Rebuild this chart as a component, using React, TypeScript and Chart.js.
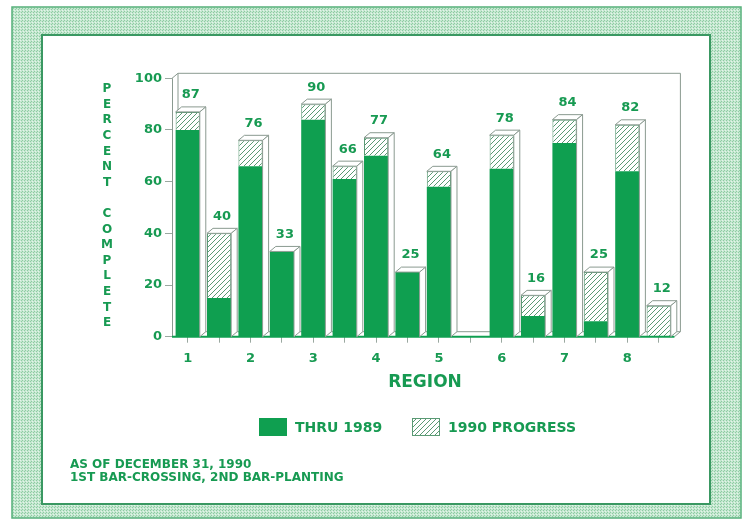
import { useEffect, useRef } from 'react';
import { Chart, registerables } from 'chart.js';
Chart.register(...registerables);

// ---------------- data ----------------
const regions = ['1', '2', '3', '4', '5', '6', '7', '8'];
const barKinds = ['CROSSING', 'PLANTING'];
const thru1989 = [80, 15, 66, 33, 84, 61, 70, 25, 58, 0, 65, 8, 75, 6, 64, 0];
const progress1990 = [7, 25, 10, 0, 6, 5, 7, 0, 6, 0, 13, 8, 9, 19, 18, 12];
const yTickValues = [0, 20, 40, 60, 80, 100];
const seriesNames = ['THRU 1989', '1990 PROGRESS'];
const yTitle = 'PERCENT COMPLETE';
const xTitle = 'REGION';
const notes = ['AS OF DECEMBER 31, 1990', '1ST BAR-CROSSING, 2ND BAR-PLANTING'];

// ---------------- style ----------------
const W = 749;
const H = 524;
const GREEN = '#0f9f50';
const TEXT = '#179a52';
const EDGE = '#8a9a90';
const FONT = '"DejaVu Sans", sans-serif';
const DX = 6;
const DY = -5;

function makeHatch(size: number) {
  const c = document.createElement('canvas');
  c.width = size;
  c.height = size;
  const g = c.getContext('2d')!;
  g.fillStyle = '#ffffff';
  g.fillRect(0, 0, size, size);
  g.strokeStyle = '#5a9a74';
  g.lineWidth = 1;
  g.beginPath();
  g.moveTo(-1, size + 1);
  g.lineTo(size + 1, -1);
  g.moveTo(-1, 1);
  g.lineTo(1, -1);
  g.moveTo(size - 1, size + 1);
  g.lineTo(size + 1, size - 1);
  g.stroke();
  return g.createPattern(c, 'repeat')!;
}

function makeTexture() {
  const c = document.createElement('canvas');
  c.width = 3;
  c.height = 3;
  const g = c.getContext('2d')!;
  g.fillStyle = '#c6e8d1';
  g.fillRect(0, 0, 3, 3);
  g.fillStyle = '#8ecba3';
  g.fillRect(0, 0, 1, 1);
  g.fillRect(1, 2, 1, 1);
  g.fillStyle = '#e4f4ea';
  g.fillRect(2, 1, 1, 1);
  return g.createPattern(c, 'repeat')!;
}

export default function App() {
  const ref = useRef<HTMLCanvasElement | null>(null);

  useEffect(() => {
    const canvas = ref.current!;
    const hatch = makeHatch(5);
    const texture = makeTexture();
    const slots = regions.flatMap((r) => barKinds.map((k) => `${r} ${k}`));
    const totals = thru1989.map((v, i) => v + progress1990[i]);

    const decor = {
      id: 'decor',
      beforeDraw(chart: any) {
        const ctx = chart.ctx;
        ctx.save();
        ctx.fillStyle = '#ffffff';
        ctx.fillRect(0, 0, W, H);
        // outer textured frame
        ctx.fillStyle = texture;
        ctx.fillRect(12, 7, 729, 511);
        ctx.strokeStyle = '#55b07a';
        ctx.lineWidth = 1.5;
        ctx.strokeRect(12, 7, 729, 511);
        // inner white panel
        ctx.fillStyle = '#ffffff';
        ctx.fillRect(42, 35, 668, 469);
        ctx.strokeStyle = '#3a9862';
        ctx.lineWidth = 2;
        ctx.strokeRect(42, 35, 668, 469);
        ctx.restore();
      },
      beforeDatasetsDraw(chart: any) {
        const ctx = chart.ctx;
        const a = chart.chartArea;
        ctx.save();
        ctx.strokeStyle = EDGE;
        ctx.lineWidth = 1;
        ctx.beginPath();
        // back wall
        ctx.moveTo(a.left + DX, a.bottom + DY);
        ctx.lineTo(a.left + DX, a.top + DY);
        ctx.lineTo(a.right + DX, a.top + DY);
        ctx.lineTo(a.right + DX, a.bottom + DY);
        // floor back edge
        ctx.moveTo(a.left + DX, a.bottom + DY);
        ctx.lineTo(a.right + DX, a.bottom + DY);
        // connectors
        ctx.moveTo(a.left, a.top);
        ctx.lineTo(a.left + DX, a.top + DY);
        ctx.moveTo(a.right, a.bottom);
        ctx.lineTo(a.right + DX, a.bottom + DY);
        // front y axis
        ctx.moveTo(a.left + 0.5, a.top);
        ctx.lineTo(a.left + 0.5, a.bottom);
        ctx.stroke();
        ctx.restore();
      },
      afterDatasetsDraw(chart: any) {
        const ctx = chart.ctx;
        const a = chart.chartArea;
        const y = chart.scales.y;
        const meta = chart.getDatasetMeta(0);
        ctx.save();
        // front floor line
        ctx.strokeStyle = GREEN;
        ctx.lineWidth = 2;
        ctx.beginPath();
        ctx.moveTo(a.left, a.bottom);
        ctx.lineTo(a.right, a.bottom);
        ctx.stroke();
        ctx.lineWidth = 1;
        totals.forEach((t, i) => {
          const el = meta.data[i];
          const w = el.width;
          const l = el.x - w / 2;
          const r = el.x + w / 2;
          const top = y.getPixelForValue(t);
          const bot = y.getPixelForValue(0);
          if (t > 0) {
            ctx.fillStyle = '#ffffff';
            ctx.strokeStyle = EDGE;
            ctx.beginPath();
            ctx.moveTo(l, top);
            ctx.lineTo(l + DX, top + DY);
            ctx.lineTo(r + DX, top + DY);
            ctx.lineTo(r, top);
            ctx.closePath();
            ctx.fill();
            ctx.stroke();
            ctx.beginPath();
            ctx.moveTo(r, top);
            ctx.lineTo(r + DX, top + DY);
            ctx.lineTo(r + DX, bot + DY);
            ctx.lineTo(r, bot);
            ctx.closePath();
            ctx.fill();
            ctx.stroke();
            ctx.fillStyle = TEXT;
            ctx.font = `bold 13px ${FONT}`;
            ctx.textAlign = 'center';
            ctx.textBaseline = 'middle';
            ctx.fillText(String(t), el.x + 3, top - 17);
          }
        });
        ctx.restore();
      },
      afterDraw(chart: any) {
        const ctx = chart.ctx;
        ctx.save();
        ctx.fillStyle = TEXT;
        ctx.textAlign = 'center';
        ctx.textBaseline = 'middle';
        // vertical stacked y title
        ctx.font = `bold 12px ${FONT}`;
        yTitle.split('').forEach((ch, i) => {
          if (ch !== ' ') ctx.fillText(ch, 107, 89 + i * 15.6);
        });
        // x title
        ctx.font = `bold 17px ${FONT}`;
        ctx.fillText(xTitle, 425, 383);
        // legend
        ctx.font = `bold 14px ${FONT}`;
        ctx.textAlign = 'left';
        ctx.fillStyle = GREEN;
        ctx.fillRect(259, 418, 28, 18);
        ctx.fillStyle = TEXT;
        ctx.fillText(seriesNames[0], 295, 428);
        ctx.fillStyle = hatch;
        ctx.fillRect(412, 418, 28, 18);
        ctx.strokeStyle = '#5a9a74';
        ctx.strokeRect(412.5, 418.5, 27, 17);
        ctx.fillStyle = TEXT;
        ctx.fillText(seriesNames[1], 448, 428);
        // notes
        ctx.font = `bold 12px ${FONT}`;
        notes.forEach((n, i) => ctx.fillText(n, 70, 465 + i * 13));
        ctx.restore();
      },
    };

    const tickFont = { family: FONT, size: 13, weight: 'bold' as const };

    const chart = new Chart(canvas, {
      type: 'bar',
      data: {
        labels: slots,
        datasets: [
          {
            label: seriesNames[0],
            data: thru1989.map((v) => (v === 0 ? null : v)),
            backgroundColor: GREEN,
            borderWidth: 0,
            barPercentage: 0.77,
            categoryPercentage: 1,
          },
          {
            label: seriesNames[1],
            data: progress1990.map((v) => (v === 0 ? null : v)),
            backgroundColor: hatch,
            borderColor: '#5a9a74',
            borderWidth: 1,
            barPercentage: 0.77,
            categoryPercentage: 1,
          },
        ],
      },
      options: {
        responsive: false,
        animation: false,
        devicePixelRatio: 1,
        layout: { padding: { left: 110, right: 74.6, top: 78.3, bottom: 157.3 } },
        plugins: { legend: { display: false }, tooltip: { enabled: false } },
        scales: {
          x: {
            stacked: true,
            offset: true,
            grid: { offset: false, drawOnChartArea: false, drawTicks: true, tickLength: 6, color: '#9aa8a0' },
            border: { display: false },
            ticks: {
              autoSkip: false,
              maxRotation: 0,
              padding: 8,
              color: TEXT,
              font: tickFont,
              callback: (_v: any, i: number) => (i % 2 === 0 ? regions[i / 2] : ''),
            },
            afterFit: (s: any) => {
              s.height = 30;
            },
          },
          y: {
            stacked: true,
            min: 0,
            max: 100,
            grid: { drawOnChartArea: false, drawTicks: true, tickLength: 7, color: '#9aa8a0' },
            border: { display: false },
            ticks: { padding: 3, color: TEXT, font: tickFont },
            afterBuildTicks: (s: any) => {
              s.ticks = yTickValues.map((v) => ({ value: v }));
            },
            afterFit: (s: any) => {
              s.width = 62;
            },
          },
        },
      },
      plugins: [decor],
    });
    return () => chart.destroy();
  }, []);

  return (
    <div style={{ position: 'fixed', left: 0, top: 0, width: W, height: H }}>
      <canvas ref={ref} width={W} height={H} style={{ display: 'block' }} />
    </div>
  );
}
